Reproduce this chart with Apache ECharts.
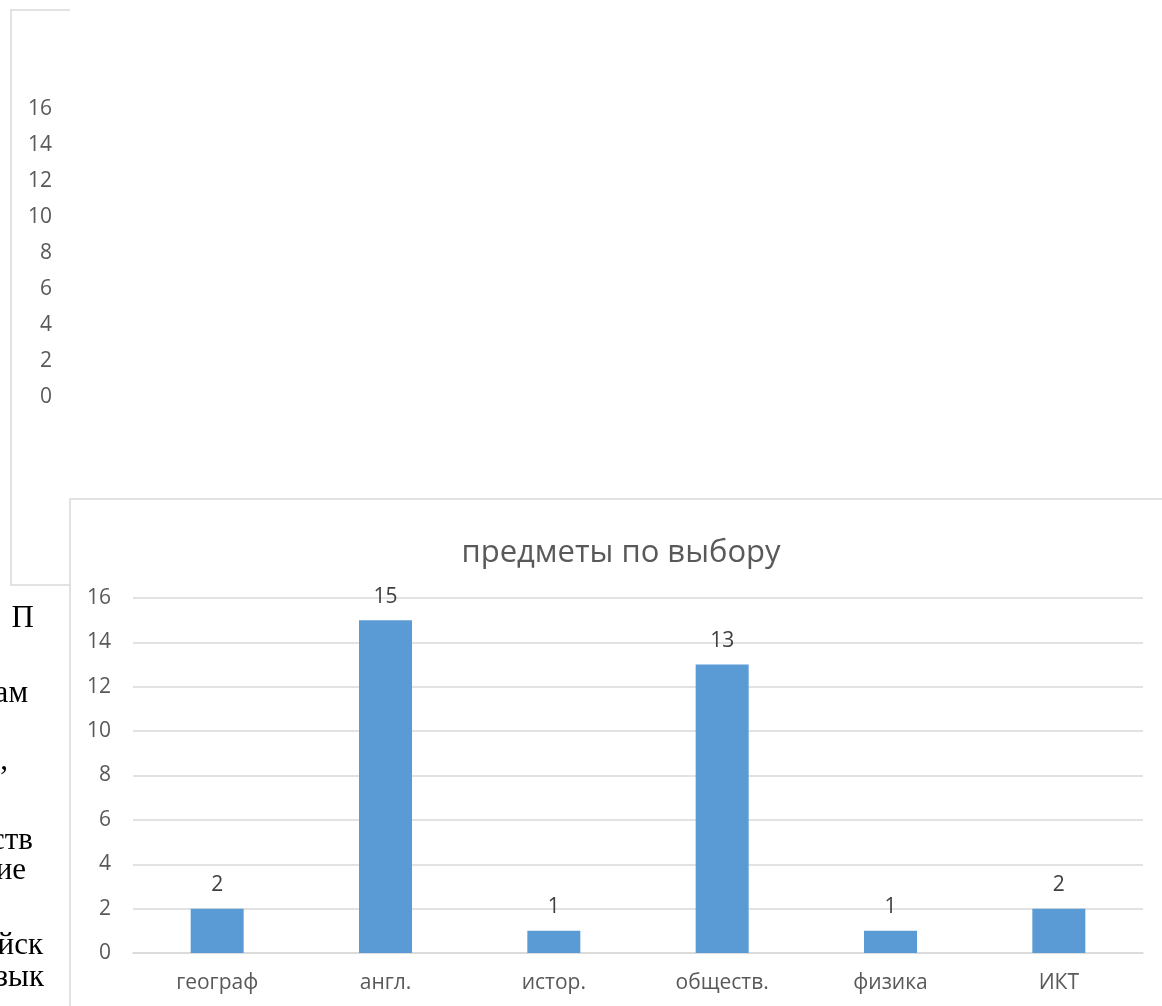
<!DOCTYPE html>
<html>
<head>
<meta charset="utf-8">
<title>предметы по выбору</title>
<script src="https://cdn.jsdelivr.net/npm/echarts@6/dist/echarts.min.js"></script>
<style>
    html, body { margin: 0; padding: 0; background: #fff; }
    #main { width: 1162px; height: 1006px; }
</style>
</head>
<body>
<div id="main"></div>
<script type="text/javascript">
    // данные диаграммы
    var subjects = ['географ', 'англ.', 'истор.', 'обществ.', 'физика', 'ИКТ'];
    var pupils = [2, 15, 1, 13, 1, 2];
    var axisMax = 16, axisStep = 2;
    // обрезанные куски текста документа слева (правый край, низ строки)
    var fragments = ['П', 'ам', ',', 'ств', 'ие', 'йск', 'зык'];
    var fragPos = [[34, 634], [28, 709], [8, 776], [33, 856], [26, 886], [43, 961], [44, 993]];

    var font = "'Open Sans', sans-serif";
    var grey = '#595959';
    var lineGrey = '#d9d9d9';

    var graphics = [
        // рамка диаграммы позади
        {
            type: 'polyline',
            shape: { points: [[70, 10], [11, 10], [11, 585], [70, 585]] },
            style: { stroke: lineGrey, lineWidth: 1.5, fill: null }
        },
        // рамка основной диаграммы
        {
            type: 'rect',
            shape: { x: 70, y: 499, width: 1200, height: 600 },
            style: { stroke: lineGrey, lineWidth: 1.5, fill: null }
        }
    ];
    fragments.forEach(function (t, i) {
        graphics.push({
            type: 'text',
            x: fragPos[i][0],
            y: fragPos[i][1],
            style: {
                text: t,
                font: "31px 'Liberation Serif', 'Times New Roman', serif",
                fill: '#000',
                textAlign: 'right',
                textVerticalAlign: 'bottom'
            }
        });
    });

    var myChart = echarts.init(document.getElementById('main'));
    var option = {
        animation: false,
        backgroundColor: '#fff',
        textStyle: { fontFamily: font },
        title: {
            text: 'предметы по выбору',
            left: 616,
            textAlign: 'center',
            top: 533,
            textStyle: { fontFamily: font, fontSize: 31, fontWeight: 'normal', color: grey }
        },
        graphic: graphics,
        grid: [
            { left: 133, right: 19, top: 598, bottom: 53 },
            { left: 60, width: 10, top: 109, bottom: 609 }
        ],
        xAxis: [
            {
                type: 'category',
                gridIndex: 0,
                data: subjects,
                axisLine: { lineStyle: { color: lineGrey, width: 1.5 } },
                axisTick: { show: false },
                axisLabel: { color: grey, fontSize: 21, fontFamily: font, margin: 20 }
            },
            {
                type: 'category',
                gridIndex: 1,
                data: [''],
                show: false
            }
        ],
        yAxis: [
            {
                type: 'value',
                gridIndex: 0,
                min: 0,
                max: axisMax,
                interval: axisStep,
                axisLine: { show: false },
                axisTick: { show: false },
                splitLine: { lineStyle: { color: lineGrey, width: 1.5 } },
                axisLabel: { color: grey, fontSize: 21, fontFamily: font, margin: 22 }
            },
            {
                type: 'value',
                gridIndex: 1,
                min: 0,
                max: axisMax,
                interval: axisStep,
                axisLine: { show: false },
                axisTick: { show: false },
                splitLine: { show: false },
                axisLabel: { color: grey, fontSize: 21, fontFamily: font, margin: 8 }
            }
        ],
        series: [
            {
                name: 'предметы по выбору',
                type: 'bar',
                xAxisIndex: 0,
                yAxisIndex: 0,
                data: pupils,
                barWidth: 53,
                itemStyle: { color: '#5b9bd5' },
                label: {
                    show: true,
                    position: 'top',
                    distance: 13,
                    color: '#404040',
                    fontSize: 21,
                    fontFamily: font
                }
            }
        ]
    };
    myChart.setOption(option);
</script>
</body>
</html>
